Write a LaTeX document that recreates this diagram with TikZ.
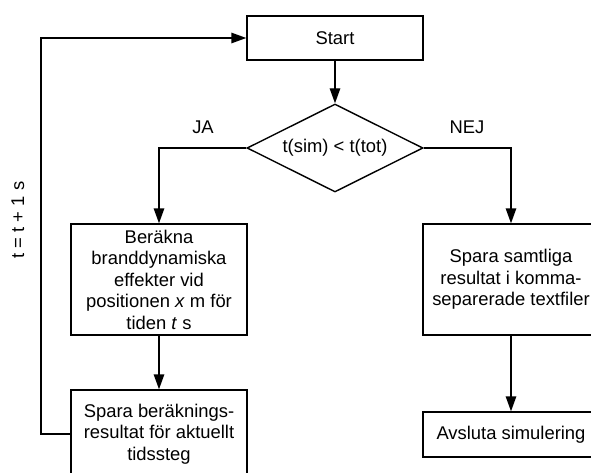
\documentclass[tikz,border=0pt]{standalone}
\usepackage{fontspec}
\setmainfont{Liberation Sans}
\usetikzlibrary{arrows.meta,shapes.geometric}
\tikzset{
  box/.style={draw, line width=1.4pt, inner sep=0pt, align=center, font=\fontsize{18.4}{21.5}\selectfont},
  lbl/.style={inner sep=0pt, font=\fontsize{18.4}{21.5}\selectfont},
  con/.style={line width=1.4pt, -{Triangle[length=15pt,width=10.5pt]}},
  plain/.style={line width=1.4pt}
}
\begin{document}
\begin{tikzpicture}[x=1pt,y=-1pt]
\useasboundingbox (0,0) rectangle (591,473);
\clip (0,0) rectangle (591,473);
\node[box, minimum width=176pt, minimum height=44pt] (start) at (335,38) {Start};
\node[box, diamond, aspect=2, minimum width=176pt, minimum height=88pt] (dec) at (335,148) {};
\node[lbl] (dect) at (335,148) {t(sim) < t(tot)};
\node[box, minimum width=176pt, minimum height=111pt] (calc) at (159,279.5) {Beräkna\\branddynamiska\\effekter vid\\positionen \textit{x} m för\\tiden \textit{t} s};
\node[box, minimum width=176pt, minimum height=88pt] (save) at (159,434) {Spara beräknings-\\resultat för aktuellt\\tidssteg};
\node[box, minimum width=176pt, minimum height=111pt] (all) at (511,279.5) {Spara samtliga\\resultat i komma-\\separerade textfiler};
\node[box, minimum width=176pt, minimum height=45pt] (end) at (511,434.5) {Avsluta simulering};
\node[lbl] (ja) at (203,127) {JA};
\node[lbl] (nej) at (467,127) {NEJ};
\node[lbl, rotate=90] (inc) at (18,220) {t = t + 1 s};
\coordinate (fb) at (41,434);
\draw[con] (start) -- (dec);
\draw[con] (dec.west) -| (calc.north);
\draw[con] (dec.east) -| (all.north);
\draw[con] (calc) -- (save);
\draw[con] (all) -- (end);
\draw[con] (save.west) -- (fb) |- (start.west);
\end{tikzpicture}
\end{document}
